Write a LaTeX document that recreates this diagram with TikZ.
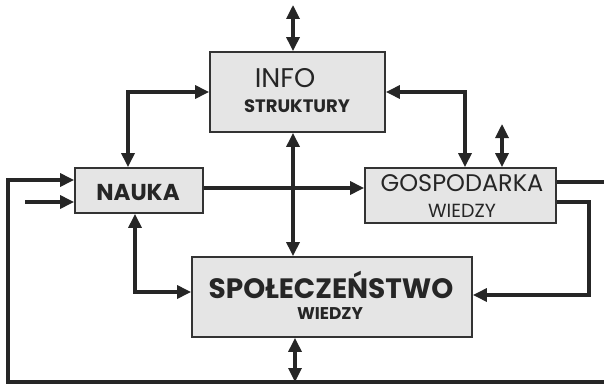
\documentclass[tikz,border=0pt]{standalone}
\usepackage{fontspec}
\setmainfont{Poppins}
\usetikzlibrary{arrows.meta}
\begin{document}
\begin{tikzpicture}[x=1pt,y=-1pt,
  box/.style={draw=black!80,line width=1.8pt,fill=black!10,inner sep=0pt},
  txt/.style={inner sep=0pt,anchor=base,text=black!85},
  conn/.style={line width=3.2pt,draw=black!85,
    >={Triangle[length=14pt,width=13pt]}},
]
\useasboundingbox (0,0) rectangle (604,385);
% boxes
\node[box,minimum width=175pt,minimum height=80pt] (info) at (297.5,92) {};
\node[box,minimum width=128pt,minimum height=45pt] (nauka) at (139,190.5) {};
\node[box,minimum width=191pt,minimum height=55pt] (gosp) at (460.5,195.5) {};
\node[box,minimum width=280pt,minimum height=80pt] (spol) at (332,297) {};
% texts
\node[txt,font=\fontsize{27}{27}\selectfont] (t1) at (285,87.5) {INFO};
\node[txt,font=\bfseries\fontsize{18}{18}\selectfont] (t2) at (297,112.5) {STRUKTURY};
\node[txt,font=\bfseries\fontsize{23}{23}\selectfont] (t3) at (138,200) {NAUKA};
\node[txt,font=\fontsize{24}{24}\selectfont] (t4) at (462,191.5) {GOSPODARKA};
\node[txt,font=\fontsize{19}{19}\selectfont] (t5) at (462,217.5) {WIEDZY};
\node[txt,font=\bfseries\fontsize{28}{28}\selectfont] (t6) at (331,298.5) {SPOŁECZEŃSTWO};
\node[txt,font=\bfseries\fontsize{17}{17}\selectfont] (t7) at (330,319) {WIEDZY};
% free ends
\coordinate (top) at (293,5);
\coordinate (gtop) at (502,124);
\coordinate (inp) at (25,202);
\coordinate (loopBR) at (614,382);
\coordinate (loopBL) at (8,382);
% connectors
\draw[conn,<->] (top) -- (top |- info.north);
\draw[conn,<->] (info.west) -| ([xshift=-11pt]nauka.north);
\draw[conn,<->] (info.east) -| ([xshift=4.5pt]gosp.north);
\draw[conn,<->] (gtop) -- (gtop |- gosp.north);
\draw[conn,<->] ([xshift=-4.5pt]info.south) -- ([xshift=-4.5pt]info.south |- spol.north);
\draw[conn,->] ([yshift=2.5pt]nauka.east) coordinate (ne) -- (ne -| gosp.west);
\draw[conn,->] ([yshift=13.5pt]gosp.east) -| (loopBR) -- (loopBL) |- ([yshift=10.5pt]nauka.west);
\draw[conn,->] (inp) -- (inp -| nauka.west);
\draw[conn,<->] ([xshift=-4pt]nauka.south) |- ([yshift=5pt]spol.west);
\draw[conn,->] ([yshift=-6.5pt]gosp.east) -- ++(32,0) |- ([yshift=2pt]spol.east);
\draw[conn,<->] ([xshift=-37pt]spol.south) -- ([xshift=-37pt]spol.south |- loopBL);
\end{tikzpicture}
\end{document}
